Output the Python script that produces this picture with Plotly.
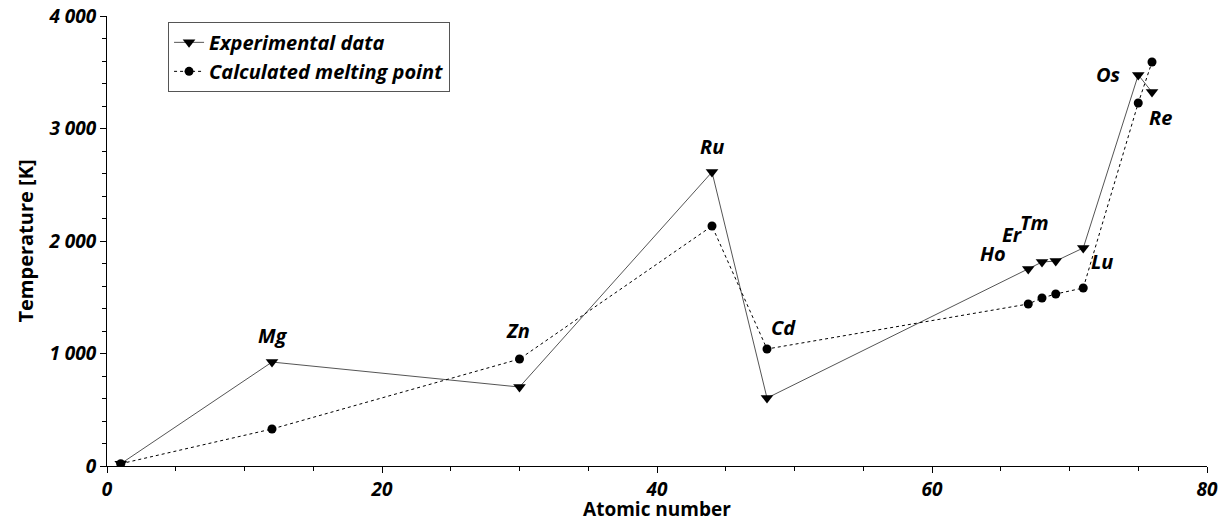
import plotly.graph_objects as go

# Data
atomic_number = [1, 12, 30, 44, 48, 67, 68, 69, 71, 75, 76]
experimental = [20, 924, 702, 2613, 604, 1751, 1813, 1822, 1938, 3476, 3324]
calculated = [20, 329, 951, 2133, 1040, 1440, 1493, 1529, 1582, 3227, 3591]

label_text = ["Mg", "Zn", "Ru", "Cd", "Ho", "Er", "Tm", "Lu", "Os", "Re"]
label_x = [12, 30, 44, 48, 67, 68, 69, 71, 75, 76]
label_anchor_series = ["exp", "calc", "exp", "calc", "exp", "exp", "exp", "calc", "exp", "exp"]
# pixel offsets of label centres from their point (style)
label_dx = [1, -2, 0, 16, -35, -30, -21, 19, -30, 8]
label_dy = [27, 29, 26, 22, 16, 28, 39, 27, 0, -25]

FONT = "Open Sans"

fig = go.Figure()
fig.add_trace(go.Scatter(
    x=atomic_number, y=experimental, mode="lines+markers",
    name="<b><i>Experimental data</i></b>",
    line=dict(color="#555555", width=1),
    marker=dict(symbol="triangle-down", size=11, color="black"),
))
fig.add_trace(go.Scatter(
    x=atomic_number, y=calculated, mode="lines+markers",
    name="<b><i>Calculated melting point</i></b>",
    line=dict(color="black", width=1, dash="3px,3px"),
    marker=dict(symbol="circle", size=9, color="black"),
))

exp_map = dict(zip(atomic_number, experimental))
calc_map = dict(zip(atomic_number, calculated))
for t, xv, s, dx, dy in zip(label_text, label_x, label_anchor_series, label_dx, label_dy):
    yv = exp_map[xv] if s == "exp" else calc_map[xv]
    fig.add_annotation(x=xv, y=yv, text=f"<b><i>{t}</i></b>", showarrow=False,
                       xshift=dx, yshift=dy,
                       font=dict(family=FONT, size=20, color="black"))

axis_common = dict(
    showline=True, linecolor="black", linewidth=1, mirror=False, automargin=False,
    ticks="outside", ticklen=6, tickcolor="black", showgrid=False, zeroline=False,
    ticklabeloverflow="allow",
    tickfont=dict(family=FONT, size=19, color="black", weight="bold", style="italic"),
)

fig.update_layout(
    width=1227, height=522,
    margin=dict(l=107, r=20, t=16, b=56),
    plot_bgcolor="white", paper_bgcolor="white",
    separators=". ",
    font=dict(family=FONT, color="black"),
    xaxis=dict(range=[0, 80], dtick=20, tick0=0,
               minor=dict(dtick=5, ticks="outside", ticklen=4, tickcolor="black"),
               title=dict(text="<b>Atomic number</b>", font=dict(family=FONT, size=19), standoff=3),
               **axis_common),
    yaxis=dict(range=[0, 4000], dtick=1000, tick0=0, separatethousands=True,
               minor=dict(dtick=200, ticks="outside", ticklen=4, tickcolor="black"),
               title=dict(text="<b>Temperature [K]</b>", font=dict(family=FONT, size=20), standoff=9),
               **axis_common),
    legend=dict(x=0.0555, y=0.987, xanchor="left", yanchor="top",
                bordercolor="#555555", borderwidth=1, bgcolor="white",
                font=dict(family=FONT, size=20, color="black"),
                tracegroupgap=0, itemwidth=30),
    showlegend=True,
)

fig.write_html("out.html", config={"displayModeBar": False},
               post_script="document.body.style.margin='0';document.body.style.overflow='hidden';")
